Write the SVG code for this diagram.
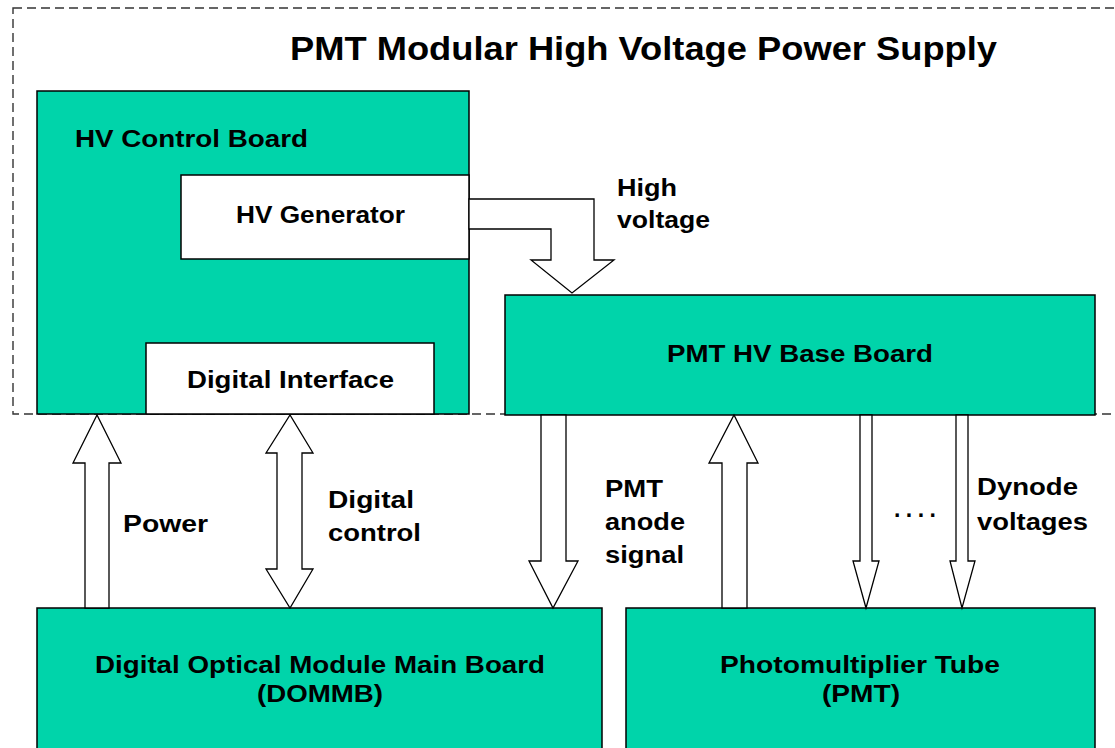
<svg xmlns="http://www.w3.org/2000/svg" width="1115" height="748" viewBox="0 0 1115 748">
<style>
.g{fill:#00D4AA;stroke:#000;stroke-width:1.5}
.w{fill:#fff;stroke:#000;stroke-width:1.5}
.a{fill:#fff;stroke:#000;stroke-width:1.3;stroke-linejoin:miter}
text{font-family:"Liberation Sans",Arial,sans-serif;font-weight:bold;fill:#000;font-size:23px}
.t{font-size:33px}
</style>
<rect width="1115" height="748" fill="#fff"/>
<rect x="13" y="8" width="1130" height="406" fill="none" stroke="#333" stroke-width="1.4" stroke-dasharray="9,5"/>
<text class="t" x="290" y="60" textLength="707" lengthAdjust="spacingAndGlyphs">PMT Modular High Voltage Power Supply</text>
<g id="hv-control-board">
<rect class="g" x="37" y="91" width="432" height="323"/>
<text x="75" y="147" textLength="233" lengthAdjust="spacingAndGlyphs">HV Control Board</text>
</g>
<g id="hv-generator">
<rect class="w" x="181" y="175" width="288" height="84"/>
<text x="236" y="223" textLength="169" lengthAdjust="spacingAndGlyphs">HV Generator</text>
</g>
<g id="digital-interface">
<rect class="w" x="146" y="343" width="288" height="71"/>
<text x="187" y="388" textLength="207" lengthAdjust="spacingAndGlyphs">Digital Interface</text>
</g>
<g id="pmt-hv-base-board">
<rect class="g" x="505" y="295" width="590" height="120"/>
<text x="667" y="362" textLength="266" lengthAdjust="spacingAndGlyphs">PMT HV Base Board</text>
</g>
<g id="dommb">
<rect class="g" x="37" y="608" width="565" height="160"/>
<text x="95" y="673" textLength="450" lengthAdjust="spacingAndGlyphs">Digital Optical Module Main Board</text>
<text x="257" y="702" textLength="126" lengthAdjust="spacingAndGlyphs">(DOMMB)</text>
</g>
<g id="pmt">
<rect class="g" x="626" y="608" width="469" height="160"/>
<text x="720" y="673" textLength="280" lengthAdjust="spacingAndGlyphs">Photomultiplier Tube</text>
<text x="822" y="702" textLength="78" lengthAdjust="spacingAndGlyphs">(PMT)</text>
</g>
<g id="connectors">
<polygon class="a" points="469,199 594,199 594,260 614,260 572,293 531,260 551,260 551,229 469,229"/>
<polygon class="a" points="85,608 85,463 73,463 97,415 121,463 109,463 109,608"/>
<polygon class="a" points="277,569 277,453 266,453 290,415 313,453 302,453 302,569 313,569 290,608 266,569"/>
<polygon class="a" points="541,415 541,561 529,561 553,608 578,561 566,561 566,415"/>
<polygon class="a" points="722,608 722,463 709,463 734,415 758,463 747,463 747,608"/>
<polygon class="a" points="860,415 860,561 853,561 866,608 879,561 872,561 872,415"/>
<polygon class="a" points="956,415 956,561 950,561 962,608 975,561 968,561 968,415"/>
</g>
<g id="labels">
<text x="617" y="196" textLength="60" lengthAdjust="spacingAndGlyphs">High</text>
<text x="617" y="228" textLength="93" lengthAdjust="spacingAndGlyphs">voltage</text>
<text x="123" y="532" textLength="85" lengthAdjust="spacingAndGlyphs">Power</text>
<text x="328" y="508" textLength="86" lengthAdjust="spacingAndGlyphs">Digital</text>
<text x="328" y="541" textLength="93" lengthAdjust="spacingAndGlyphs">control</text>
<text x="605" y="497" textLength="58" lengthAdjust="spacingAndGlyphs">PMT</text>
<text x="605" y="530" textLength="80" lengthAdjust="spacingAndGlyphs">anode</text>
<text x="605" y="563" textLength="79" lengthAdjust="spacingAndGlyphs">signal</text>
<text x="977" y="495" textLength="101" lengthAdjust="spacingAndGlyphs">Dynode</text>
<text x="977" y="530" textLength="111" lengthAdjust="spacingAndGlyphs">voltages</text>
<text x="894" y="517" font-size="18" textLength="42" lengthAdjust="spacing">....</text>
</g>
</svg>
